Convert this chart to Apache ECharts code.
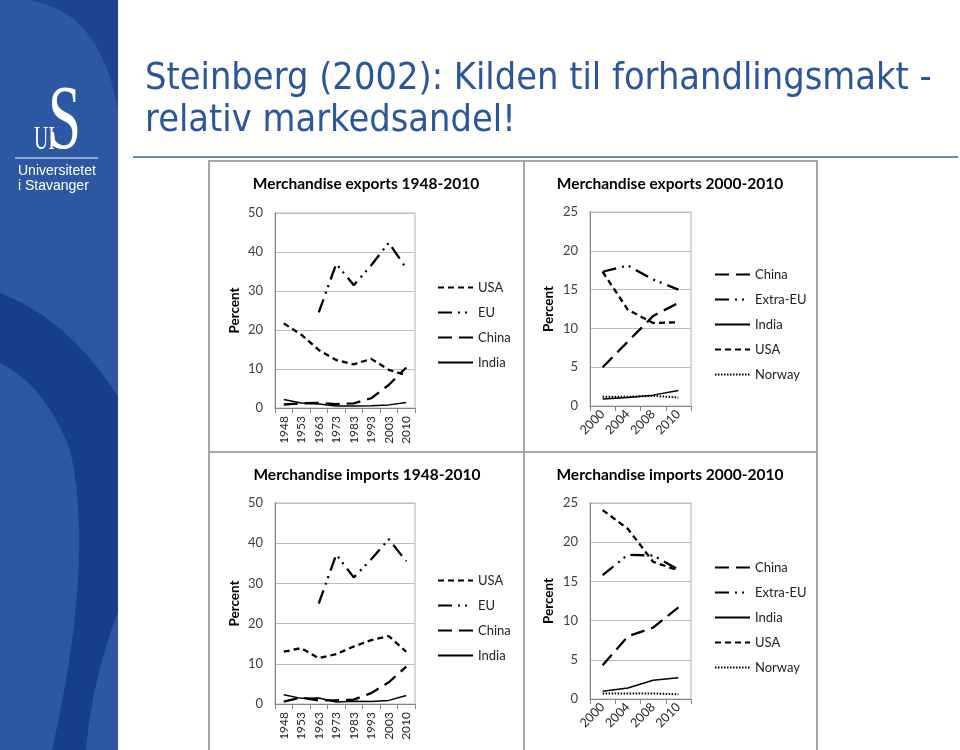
<!DOCTYPE html>
<html>
<head>
<meta charset="utf-8">
<script src="https://cdn.jsdelivr.net/npm/echarts@6/dist/echarts.min.js"></script>
<style>
html,body{margin:0;padding:0;background:#fff;}
#c{width:960px;height:750px;}
</style>
</head>
<body>
<div id="c"></div>
<script>
// ---- Data ----
const yearsLong = ['1948','1953','1963','1973','1983','1993','2003','2010'];
const yearsShort = ['2000','2004','2008','2010'];

// Merchandise exports 1948-2010 (percent)
const usaExpLong   = [21.7, 18.8, 14.9, 12.3, 11.2, 12.6, 9.8, 8.4];
const euExpLong    = [null, null, 24.5, 37.0, 31.5, 36.6, 42.4, 35.8];
const chinaExpLong = [0.9, 1.2, 1.3, 1.0, 1.2, 2.5, 5.9, 10.4];
const indiaExpLong = [2.2, 1.3, 1.0, 0.5, 0.5, 0.6, 0.8, 1.4];

// Merchandise imports 1948-2010 (percent)
const usaImpLong   = [13.0, 13.9, 11.4, 12.4, 14.3, 15.9, 16.9, 13.0];
const euImpLong    = [null, null, 25.0, 37.2, 31.5, 36.0, 41.0, 35.5];
const chinaImpLong = [0.6, 1.6, 0.9, 0.9, 1.1, 2.7, 5.4, 9.3];
const indiaImpLong = [2.3, 1.4, 1.5, 0.5, 0.7, 0.6, 0.9, 2.1];

// Merchandise exports 2000-2010 (percent)
const chinaExpShort   = [5.0, 8.3, 11.6, 13.3];
const extraEuExpShort = [17.3, 18.1, 16.3, 15.0];
const indiaExpShort   = [0.9, 1.1, 1.4, 2.0];
const usaExpShort     = [17.3, 12.4, 10.7, 10.8];
const norwayExpShort  = [1.2, 1.2, 1.3, 1.1];

// Merchandise imports 2000-2010 (percent)
const chinaImpShort   = [4.3, 8.0, 9.1, 11.7];
const extraEuImpShort = [15.8, 18.4, 18.3, 16.5];
const indiaImpShort   = [1.0, 1.4, 2.4, 2.7];
const usaImpShort     = [24.1, 21.7, 17.5, 16.4];
const norwayImpShort  = [0.7, 0.7, 0.7, 0.6];

const legendLong  = ['USA','EU','China','India'];
const legendShort = ['China','Extra-EU','India','USA','Norway'];

// ---- Styles ----
const lineStyles = {
  'USA':      {width: 2.3, type: [6, 4]},
  'EU':       {width: 2.3, type: [14, 6, 2, 5, 2, 6]},
  'Extra-EU': {width: 2.3, type: [14, 6, 2, 5, 2, 6]},
  'China':    {width: 2.3, type: [14, 7]},
  'India':    {width: 1.5, type: 'solid'},
  'Norway':   {width: 2, type: [1.5, 1.5]}
};
function mk(name, data, idx) {
  const ls = lineStyles[name];
  return {
    name: name, type: 'line', data: data, xAxisIndex: idx, yAxisIndex: idx,
    symbol: 'none', showSymbol: false, connectNulls: false, silent: true,
    lineStyle: {color: '#000', width: ls.width, type: ls.type, cap: 'butt'},
    itemStyle: {color: '#000'}, animation: false
  };
}

const grids = [
  {left: 275, top: 213, width: 140, height: 195},
  {left: 590, top: 212, width: 101, height: 194},
  {left: 275, top: 503, width: 140, height: 201},
  {left: 590, top: 503, width: 101, height: 196}
].map(g => Object.assign(g, {show: true, borderColor: '#bdbdbd', borderWidth: 1.2, backgroundColor: 'transparent'}));

const font = 'Lato';
function xAx(idx, cats, rot, fs, margin) {
  return {
    type: 'category', gridIndex: idx, data: cats, boundaryGap: true,
    axisLine: {show: true, lineStyle: {color: '#868686', width: 1}},
    axisTick: {show: true, length: 5, lineStyle: {color: '#868686'}},
    axisLabel: {rotate: rot, fontSize: fs, color: '#262626', fontFamily: font, margin: margin, interval: 0},
    splitLine: {show: false}
  };
}
function yAx(idx, max, interval, gap) {
  return {
    type: 'value', gridIndex: idx, min: 0, max: max, interval: interval,
    name: 'Percent', nameLocation: 'middle', nameGap: gap,
    nameTextStyle: {fontFamily: font, fontWeight: 'bold', fontSize: 13.5, color: '#000'},
    axisLine: {show: true, lineStyle: {color: '#868686', width: 1}},
    axisTick: {show: false},
    axisLabel: {fontSize: 13, color: '#404040', fontFamily: font, margin: 12},
    splitLine: {show: true, lineStyle: {color: '#bdbdbd', width: 1.2}}
  };
}
function lg(left, top, data) {
  return {
    orient: 'vertical', left: left, top: top, data: data, padding: 0,
    itemWidth: 35, itemHeight: 12, itemGap: 12, selectedMode: false,
    itemStyle: {opacity: 0},
    textStyle: {fontFamily: font, fontSize: 13, color: '#222'}
  };
}

function txt(x, y, text, fontStr, fill, align, sx) {
  return {type: 'text', x: x, y: y, scaleX: sx || 1, silent: true, z: 10,
    style: {text: text, font: fontStr, fill: fill, align: align || 'left', verticalAlign: 'middle'}};
}
// sample a chain of quadratic curves into polygon points (decorative background only)
function quadPts(segs) {
  const pts = [];
  segs.forEach(s => {
    if (s.length === 2) { pts.push(s); return; }
    const [p0, c, p1] = s;
    for (let i = 0; i <= 20; i++) {
      const t = i / 20, u = 1 - t;
      pts.push([u*u*p0[0] + 2*u*t*c[0] + t*t*p1[0], u*u*p0[1] + 2*u*t*c[1] + t*t*p1[1]]);
    }
  });
  return pts;
}

const graphics = [
  // left bar
  {type: 'rect', shape: {x: 0, y: 0, width: 118, height: 750}, style: {fill: '#2c58a3'}, z: 0, silent: true},
  {type: 'polygon', shape: {points: quadPts([[[28,0],[100,10],[118,110]], [118,0]])}, style: {fill: '#1d4391'}, z: 1, silent: true},
  {type: 'polygon', shape: {points: quadPts([[[0,293],[70,320],[118,397]], [118,612], [[118,612],[92,680],[86,750]], [52,750], [[52,750],[95,560],[70,450]], [[70,450],[45,385],[0,363]]])}, style: {fill: '#173e8b'}, z: 1, silent: true},
  // logo
  txt(48, 124, 'S', 'normal 90px "Liberation Serif"', '#ffffff', 'left', 0.66),
  txt(34, 140, 'UI', 'normal 34px "Liberation Serif"', '#ffffff', 'left', 0.58),
  {type: 'line', shape: {x1: 15, y1: 158, x2: 98, y2: 158}, style: {stroke: '#ffffff', lineWidth: 1}, z: 10, silent: true},
  txt(18, 171, 'Universitetet', 'normal 14px "Liberation Sans"', '#ffffff'),
  txt(18, 186, 'i Stavanger', 'normal 14px "Liberation Sans"', '#ffffff'),
  // slide title
  txt(145, 79, 'Steinberg (2002): Kilden til forhandlingsmakt -', 'normal 38px "DejaVu Sans"', '#2b579a', 'left', 0.89),
  txt(145, 121, 'relativ markedsandel!', 'normal 38px "DejaVu Sans"', '#2b579a', 'left', 0.89),
  {type: 'line', shape: {x1: 133, y1: 157, x2: 958, y2: 157}, style: {stroke: '#3a5f9f', lineWidth: 1.5}, z: 10, silent: true},
  // panel borders
  {type: 'rect', shape: {x: 209, y: 161, width: 315, height: 291}, style: {fill: 'none', stroke: '#a6a6a6', lineWidth: 2}, z: 2, silent: true},
  {type: 'rect', shape: {x: 524, y: 161, width: 293, height: 291}, style: {fill: 'none', stroke: '#a6a6a6', lineWidth: 2}, z: 2, silent: true},
  {type: 'rect', shape: {x: 209, y: 452, width: 315, height: 300}, style: {fill: 'none', stroke: '#a6a6a6', lineWidth: 2}, z: 2, silent: true},
  {type: 'rect', shape: {x: 524, y: 452, width: 293, height: 300}, style: {fill: 'none', stroke: '#a6a6a6', lineWidth: 2}, z: 2, silent: true},
  // panel titles
  txt(366, 184, 'Merchandise exports 1948-2010', 'bold 15.5px Lato', '#000', 'center'),
  txt(670, 184, 'Merchandise exports 2000-2010', 'bold 15.5px Lato', '#000', 'center'),
  txt(367, 475, 'Merchandise imports 1948-2010', 'bold 15.5px Lato', '#000', 'center'),
  txt(670, 475, 'Merchandise imports 2000-2010', 'bold 15.5px Lato', '#000', 'center')
];

const option = {
  animation: false,
  backgroundColor: '#ffffff',
  grid: grids,
  xAxis: [
    xAx(0, yearsLong, 90, 12, 8),
    xAx(1, yearsShort, 45, 12.5, 6),
    xAx(2, yearsLong, 90, 12, 8),
    xAx(3, yearsShort, 45, 12.5, 6)
  ],
  yAxis: [
    yAx(0, 50, 10, 33),
    yAx(1, 25, 5, 34),
    yAx(2, 50, 10, 33),
    yAx(3, 25, 5, 34)
  ],
  legend: [
    lg(437, 281, legendLong),
    lg(714, 268, legendShort),
    lg(437, 574, legendLong),
    lg(714, 561, legendShort)
  ],
  graphic: {elements: graphics},
  series: [
    mk('USA', usaExpLong, 0), mk('EU', euExpLong, 0), mk('China', chinaExpLong, 0), mk('India', indiaExpLong, 0),
    mk('China', chinaExpShort, 1), mk('Extra-EU', extraEuExpShort, 1), mk('India', indiaExpShort, 1), mk('USA', usaExpShort, 1), mk('Norway', norwayExpShort, 1),
    mk('USA', usaImpLong, 2), mk('EU', euImpLong, 2), mk('China', chinaImpLong, 2), mk('India', indiaImpLong, 2),
    mk('China', chinaImpShort, 3), mk('Extra-EU', extraEuImpShort, 3), mk('India', indiaImpShort, 3), mk('USA', usaImpShort, 3), mk('Norway', norwayImpShort, 3)
  ]
};
const chart = echarts.init(document.getElementById('c'), null, {renderer: 'canvas'});
chart.setOption(option);
</script>
</body>
</html>
